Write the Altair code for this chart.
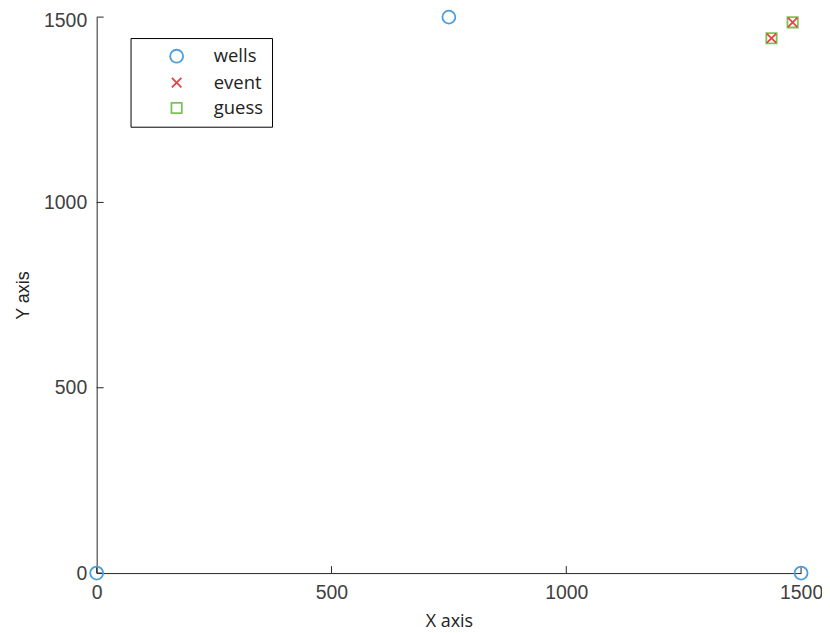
import altair as alt
import pandas as pd

# data
wells_x = [0, 750, 1500]
wells_y = [0, 1500, 0]
event_x = [1437, 1482]
event_y = [1443, 1486]
guess_x = [1437, 1482]
guess_y = [1443, 1486]
tick_values = [0, 500, 1000, 1500]
series_order = ["wells", "event", "guess"]

rows = []
for x, y in zip(wells_x, wells_y):
    rows.append({"x": x, "y": y, "series": "wells", "ord": 0})
for x, y in zip(guess_x, guess_y):
    rows.append({"x": x, "y": y, "series": "guess", "ord": 1})
for x, y in zip(event_x, event_y):
    rows.append({"x": x, "y": y, "series": "event", "ord": 2})
pts = pd.DataFrame(rows)
ticks = pd.DataFrame({"v": tick_values})

W, H = 707, 558
TL = 7
AXC = "#262626"

xscale = alt.Scale(domain=[0, 1500], nice=False, zero=False)
yscale = alt.Scale(domain=[0, 1500], nice=False, zero=False)

xaxis = alt.Axis(values=tick_values, format="d", tickSize=0, labelFontSize=19.5, labelFont="Liberation Sans",
                 labelColor="#404040", labelPadding=11, domainColor=AXC, grid=False,
                 title="X axis", titleFont="Open Sans", titleFontSize=18, titleFontWeight="normal",
                 titleColor="#222222", titlePadding=10, labelFlush=False)
yaxis = alt.Axis(values=tick_values, format="d", tickSize=0, labelFontSize=19.5, labelFont="Liberation Sans",
                 labelColor="#404040", labelPadding=10, domainColor=AXC, grid=False,
                 labelOffset=alt.ExprRef("datum.value == 1500 ? 3 : 0"),
                 title="Y axis", titleFont="Liberation Sans", titleFontSize=18, titleFontWeight="normal",
                 titleColor="#222222", titlePadding=11, labelFlush=False)

xmark = "M-0.73,-0.73L0.73,0.73M-0.73,0.73L0.73,-0.73"
square = "M-0.8,-0.8H0.8V0.8H-0.8Z"

points = alt.Chart(pts).mark_point(filled=False, size=169, strokeWidth=1.8, opacity=1, clip=False).encode(
    x=alt.X("x:Q", scale=xscale, axis=xaxis),
    y=alt.Y("y:Q", scale=yscale, axis=yaxis),
    color=alt.Color("series:N", scale=alt.Scale(domain=series_order,
                    range=["#4A9FE2", "#EE4040", "#7CC25A"]),
                    legend=alt.Legend(title=None, orient="none", legendX=34, legendY=21,
                                      strokeColor="black", padding=9, labelFont="Open Sans",
                                      labelFontSize=18.5, labelColor="#222222", rowPadding=6.5,
                                      symbolOffset=28, labelOffset=28, symbolStrokeWidth=1.8,
                                      symbolSize=169, fillColor="white")),
    shape=alt.Shape("series:N", scale=alt.Scale(domain=series_order, range=["circle", xmark, square])),
    order=alt.Order("ord:Q"),
)

xt = alt.Chart(ticks).mark_rule(color=AXC, strokeWidth=1).encode(
    x=alt.X("v:Q", scale=xscale), y=alt.value(H - TL), y2=alt.value(H))
yt = alt.Chart(ticks).mark_rule(color=AXC, strokeWidth=1).encode(
    y=alt.Y("v:Q", scale=yscale), x=alt.value(0), x2=alt.value(TL))

chart = alt.layer(xt, yt, points).properties(
    width=W, height=H,
    background="white",
    autosize=alt.AutoSizeParams(type="none"),
    padding={"left": 89, "top": 8, "right": 21, "bottom": 60},
).configure_view(strokeWidth=0, stroke=None)

chart.save("out.html", embed_options={"renderer": "svg", "actions": False})
